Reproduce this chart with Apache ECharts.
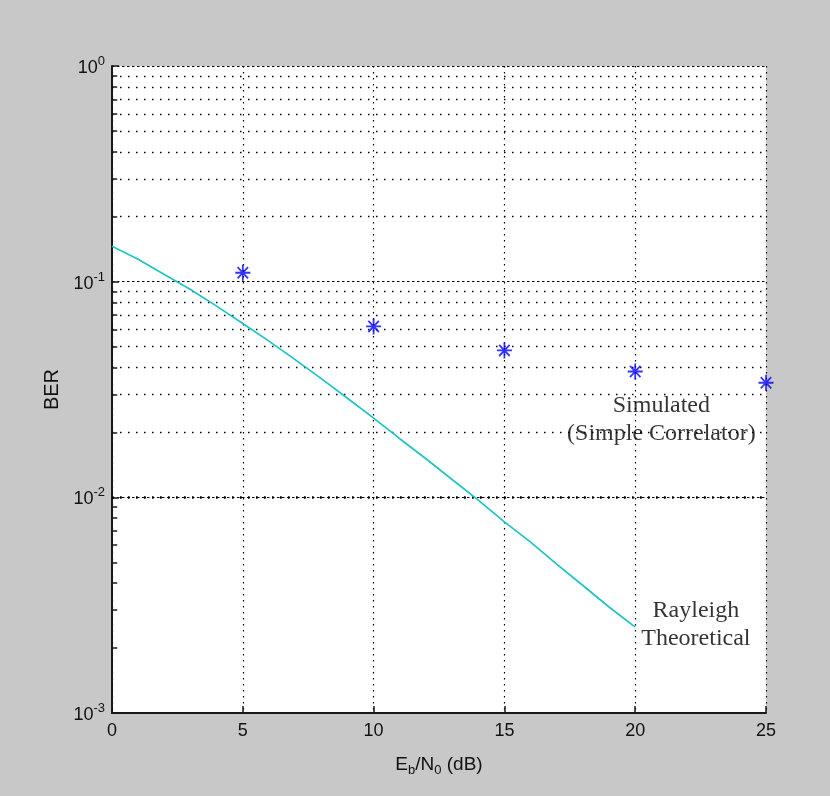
<!DOCTYPE html>
<html>
<head>
<meta charset="utf-8">
<script src="https://cdn.jsdelivr.net/npm/echarts@6/dist/echarts.min.js"></script>
<style>
html,body{margin:0;padding:0;background:#c8c8c8;}
#chart{width:830px;height:796px;}
</style>
</head>
<body>
<div id="chart"></div>
<script>
// ---- data ----
const ebnoTheory = [0,1,2,3,4,5,6,7,8,9,10,11,12,13,14,15,16,17,18,19,20];
const berTheory = [0.146,0.127,0.108,0.092,0.077,0.064,0.053,0.0435,0.0355,0.0288,0.0233,0.0187,0.0151,0.0121,0.0097,0.0077,0.0062,0.0049,0.0039,0.0031,0.0025];
const ebnoSim = [5,10,15,20,25];
const berSim = [0.110,0.062,0.048,0.0383,0.0340];
const xTicks = [0,5,10,15,20,25];
const yDecades = [0.001,0.01,0.1,1];
const yMinorValues = [0.002,0.003,0.004,0.005,0.006,0.007,0.008,0.009,
                      0.02,0.03,0.04,0.05,0.06,0.07,0.08,0.09,
                      0.2,0.3,0.4,0.5,0.6,0.7,0.8,0.9];
const annotationTexts = ['Simulated\n(Simple Correlator)','Rayleigh\nTheoretical'];
const annotationAt = [[21.0,0.0228],[22.32,0.00256]];

const chart = echarts.init(document.getElementById('chart'), null, {renderer:'canvas'});

const starPath = 'path://M-1.4,-12L1.4,-12L1.4,12L-1.4,12Z M-12,-1.4L12,-1.4L12,1.4L-12,1.4Z M-7.4,-9.4L9.4,7.4L7.4,9.4L-9.4,-7.4Z M7.4,-9.4L9.4,-7.4L-7.4,9.4L-9.4,7.4Z M-3,-3L3,-3L3,3L-3,3Z';

const option = {
  animation:false,
  backgroundColor:'#c8c8c8',
  grid:{left:112, top:66, right:64, bottom:83, show:true, backgroundColor:'#ffffff', borderWidth:0},
  xAxis:{
    type:'value', min:0, max:25, interval:5,
    axisLine:{show:true, onZero:false, lineStyle:{color:'#1a1a1a', width:2}},
    axisTick:{show:true, inside:true, length:7, lineStyle:{color:'#1a1a1a', width:1.5}},
    axisLabel:{color:'#111', fontSize:18, fontFamily:'Liberation Sans', margin:9},
    splitLine:{show:true, lineStyle:{color:'#000', width:1.2, type:[1.5,4.5]}},
    name:'{n|E}{sub|b}{n|/N}{sub|0}{n| (dB)}',
    nameLocation:'middle', nameGap:40,
    nameTextStyle:{
      color:'#111', fontFamily:'Liberation Sans',
      rich:{
        n:{fontSize:19, fontFamily:'Liberation Sans', color:'#111', lineHeight:24, verticalAlign:'middle'},
        sub:{fontSize:13, fontFamily:'Liberation Sans', color:'#111', lineHeight:24, verticalAlign:'bottom', padding:[12,0,0,0]}
      }
    }
  },
  yAxis:{
    type:'log', logBase:10, min:0.001, max:1,
    axisLine:{show:true, onZero:false, lineStyle:{color:'#1a1a1a', width:2}},
    axisTick:{show:true, inside:true, length:7, lineStyle:{color:'#1a1a1a', width:1.5}},
    axisLabel:{
      margin:7,
      formatter:function(v){
        const e = Math.round(Math.log10(v));
        return '{b|10}{s|' + e + '}';
      },
      rich:{
        b:{fontSize:18, fontFamily:'Liberation Sans', color:'#111', lineHeight:22, verticalAlign:'bottom'},
        s:{fontSize:13, fontFamily:'Liberation Sans', color:'#111', lineHeight:22, verticalAlign:'top', padding:[0,0,9,0]}
      }
    },
    splitLine:{show:true, lineStyle:{color:'#000', width:1.2, type:[2.5,2.5]}},
    name:'BER', nameLocation:'middle', nameGap:48,
    nameTextStyle:{color:'#111', fontSize:20, fontFamily:'Liberation Sans'}
  },
  series:[
    {
      name:'minor grid', type:'line', data:[], silent:true,
      markLine:{
        silent:true, symbol:['none','none'], animation:false,
        label:{show:false},
        lineStyle:{color:'#000', width:1.3, type:[1.5,6.5]},
        data: yMinorValues.map(v => ({yAxis:v}))
      }
    },
    {
      name:'minor ticks', type:'line', data:[], silent:true,
      markLine:{
        silent:true, symbol:['none','none'], animation:false,
        label:{show:false},
        lineStyle:{color:'#1a1a1a', width:1.5, type:'solid'},
        data: yMinorValues.map(v => [{coord:[0,v]},{coord:[0.2,v]}])
      }
    },
    {
      name:'Rayleigh Theoretical', type:'line',
      data: ebnoTheory.map((x,i) => [x, berTheory[i]]),
      showSymbol:false, symbol:'none',
      lineStyle:{color:'#1fc4c4', width:1.7},
      z:5
    },
    {
      name:'Simulated', type:'scatter',
      data: ebnoSim.map((x,i) => [x, berSim[i]]),
      symbol: starPath, symbolSize:[15,16],
      itemStyle:{color:'#0000ff'},
      clip:false, z:6
    },
    {
      name:'annotations', type:'scatter',
      data: annotationAt.map((p,i) => ({value:p, label:{formatter:annotationTexts[i]}})),
      symbolSize:1, itemStyle:{color:'rgba(0,0,0,0)'},
      label:{
        show:true, position:'inside', align:'center', verticalAlign:'middle',
        fontFamily:'Liberation Serif', fontSize:24, lineHeight:28, color:'#000'
      },
      silent:true, z:7
    }
  ]
};
chart.setOption(option);
</script>
</body>
</html>
